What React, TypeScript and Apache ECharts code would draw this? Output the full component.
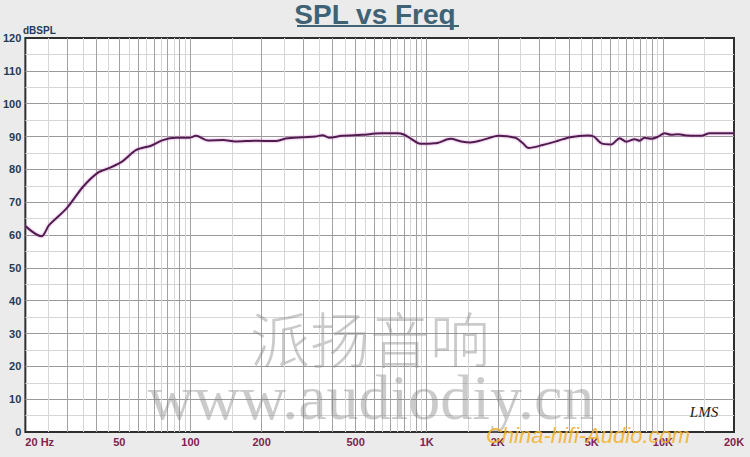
import React, { useEffect, useRef } from 'react';
import * as echarts from 'echarts';

// Frequency response (Hz -> dB SPL)
const freqHz = [20, 23.4, 25.2, 29.9, 35.1, 40.6, 45.7, 51.7, 59.0, 68.1, 76.4, 86.8, 98.5, 105.5, 118.6, 137.6, 155, 189, 230, 253, 298, 338, 362, 387, 438, 534, 606, 650, 750, 800, 860, 940, 1055, 1110, 1262, 1400, 1535, 1718, 2018, 2373, 2550, 2702, 3100, 3600, 4045, 4800, 5100, 5498, 6052, 6560, 7000, 7600, 7990, 8340, 8940, 9516, 10160, 10860, 11600, 12740, 14540, 15780, 20000];
const splDb = [62.7, 59.6, 63.0, 68.1, 74.7, 79.0, 80.5, 82.5, 85.9, 87.2, 88.9, 89.6, 89.6, 90.2, 88.8, 88.9, 88.5, 88.7, 88.6, 89.4, 89.8, 90.0, 90.4, 89.6, 90.2, 90.5, 90.9, 91.0, 91.0, 90.6, 89.3, 87.8, 87.9, 88.0, 89.3, 88.5, 88.2, 88.9, 90.2, 89.6, 88.0, 86.5, 87.4, 88.7, 89.8, 90.3, 90.0, 87.9, 87.6, 89.5, 88.4, 89.2, 88.7, 89.6, 89.3, 89.9, 91.0, 90.5, 90.7, 90.3, 90.2, 91.0, 91.0];

const xTickValues = [20, 50, 100, 200, 500, 1000, 2000, 5000, 10000, 20000];
const xTickLabels = ['20 Hz', '50', '100', '200', '500', '1K', '2K', '5K', '10K', '20K'];

const majorGridHz = [30, 40, 50, 60, 70, 80, 90, 100, 200, 300, 400, 500, 600, 700, 800, 900, 1000, 2000, 3000, 4000, 5000, 6000, 7000, 8000, 9000, 10000];
const minorGridHz = [25, 35, 45, 55, 65, 75, 85, 95, 150, 250, 350, 450, 550, 650, 750, 850, 950, 1500, 2500, 3500, 4500, 5500, 6500, 7500, 8500, 9500, 15000];

const yMin = 0;
const yMax = 120;
const yInterval = 10;

export default function App() {
  const ref = useRef<HTMLDivElement>(null);

  useEffect(() => {
    if (!ref.current) return;
    const chart = echarts.init(ref.current, null, { renderer: 'svg' });

    const gridLines = [
      ...minorGridHz.map((v) => ({ xAxis: v, lineStyle: { color: '#d6d6d6', width: 1, type: 'solid' as const } })),
      ...majorGridHz.map((v) => ({ xAxis: v, lineStyle: { color: '#a2a2a2', width: 1, type: 'solid' as const } })),
    ];

    const option: any = {
      animation: false,
      backgroundColor: '#ebebeb',
      title: {
        text: 'SPL vs Freq',
        left: 'center',
        top: 0,
        padding: 0,
        textStyle: {
          fontFamily: 'Liberation Sans, Arial, sans-serif',
          fontSize: 28,
          fontWeight: 'bold',
          color: '#3f6275',
        },
      },
      grid: {
        left: 22,
        right: 16,
        top: 38,
        bottom: 25,
        show: true,
        backgroundColor: '#ffffff',
        borderColor: '#2e2e2e',
        borderWidth: 2,
      },
      xAxis: {
        type: 'log',
        logBase: 10,
        min: 20,
        max: 20000,
        axisLine: { show: false },
        axisTick: { show: false },
        splitLine: { show: false },
        axisLabel: {
          customValues: xTickValues,
          formatter: (v: number) => {
            const i = xTickValues.findIndex((t) => Math.abs(t - v) / t < 1e-6);
            return i >= 0 ? xTickLabels[i] : '';
          },
          alignMinLabel: 'left',
          margin: 4,
          fontFamily: 'Liberation Sans, Arial, sans-serif',
          fontSize: 11,
          fontWeight: 'bold',
          color: '#7d2350',
        },
      },
      yAxis: {
        type: 'value',
        min: yMin,
        max: yMax,
        interval: yInterval,
        axisLine: { show: false },
        axisTick: { show: false },
        minorTick: { show: false, splitNumber: 2 },
        splitLine: { show: true, showMinLine: false, showMaxLine: false, lineStyle: { color: '#9a9a9a', width: 1 } },
        minorSplitLine: { show: true, lineStyle: { color: '#d6d6d6', width: 1 } },
        axisLabel: {
          margin: 4,
          fontFamily: 'Liberation Sans, Arial, sans-serif',
          fontSize: 11,
          fontWeight: 'bold',
          color: '#1f3a58',
        },
      },
      graphic: [
        {
          type: 'line',
          shape: { x1: 297, y1: 26, x2: 459, y2: 26 },
          style: { stroke: '#3f6275', lineWidth: 2 },
          z: 10,
        },
        {
          type: 'text',
          x: 23,
          y: 30,
          style: {
            text: 'dBSPL',
            font: 'bold 10px "Liberation Sans", Arial, sans-serif',
            fill: '#1f3a58',
            textAlign: 'left',
            textVerticalAlign: 'middle',
          },
        },
        {
          type: 'text',
          x: 370,
          y: 336,
          z: 20,
          silent: true,
          style: {
            text: '派扬音响',
            font: '300 60px "Noto Sans CJK SC", sans-serif',
            fill: 'rgba(130,130,130,0.42)',
            textAlign: 'center',
            textVerticalAlign: 'middle',
          },
        },
        {
          type: 'text',
          x: 371,
          y: 397,
          z: 20,
          silent: true,
          style: {
            text: 'www.audiodiy.cn',
            font: '64px "Liberation Serif", "Times New Roman", serif',
            fill: 'rgba(130,130,130,0.42)',
            textAlign: 'center',
            textVerticalAlign: 'middle',
          },
        },
        {
          type: 'text',
          x: 704,
          y: 412,
          z: 20,
          silent: true,
          style: {
            text: 'LMS',
            font: 'italic 15px "Liberation Serif", serif',
            fill: '#1a1a1a',
            textAlign: 'center',
            textVerticalAlign: 'middle',
          },
        },
        {
          type: 'text',
          x: 588,
          y: 435,
          z: 30,
          silent: true,
          style: {
            text: 'China-hifi-Audio.com',
            font: 'italic 22px "Liberation Sans", Arial, sans-serif',
            fill: 'rgba(242,178,45,0.9)',
            textAlign: 'center',
            textVerticalAlign: 'middle',
          },
        },
      ],
      series: [
        {
          name: 'grid',
          type: 'line',
          data: [[20, 0]],
          symbol: 'none',
          lineStyle: { opacity: 0 },
          silent: true,
          z: 1,
          markLine: {
            silent: true,
            symbol: ['none', 'none'],
            label: { show: false },
            animation: false,
            data: gridLines,
          },
        },
        {
          name: 'SPL',
          type: 'line',
          data: freqHz.map((f, i) => [f, splDb[i]]),
          symbol: 'none',
          smooth: 0.3,
          z: 5,
          lineStyle: {
            color: '#4e1f4b',
            width: 2,
            shadowColor: 'rgba(200,110,200,0.8)',
            shadowBlur: 2,
          },
        },
      ],
    };

    chart.setOption(option);
    return () => chart.dispose();
  }, []);

  return (
    <div
      ref={ref}
      style={{ position: 'fixed', left: 0, top: 0, width: 750, height: 457 }}
    />
  );
}
